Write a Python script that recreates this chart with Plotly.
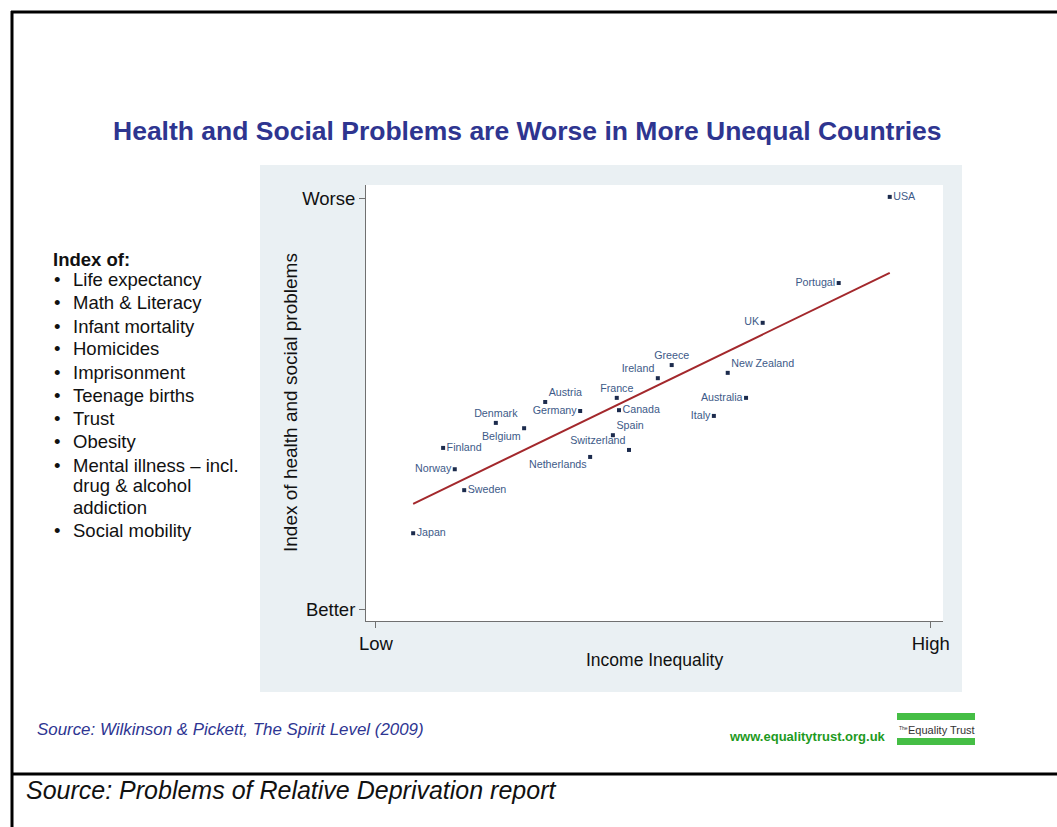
import numpy as np
import plotly.graph_objects as go

# ---------------- data ----------------
countries = ["USA", "Portugal", "UK", "Greece", "Ireland", "New Zealand", "Australia",
             "Italy", "France", "Canada", "Spain", "Switzerland", "Netherlands", "Austria",
             "Germany", "Denmark", "Belgium", "Finland", "Norway", "Sweden", "Japan"]
income_inequality = [92.6, 83.4, 69.7, 53.3, 50.8, 63.4, 66.7,
                     60.9, 43.4, 43.8, 42.7, 45.6, 38.6, 30.5,
                     36.8, 21.6, 26.7, 12.1, 14.2, 15.9, 6.7]
problems_index = [100.5, 79.5, 69.8, 59.5, 56.3, 57.6, 51.5,
                  47.1, 51.5, 48.5, 42.4, 38.8, 37.1, 50.5,
                  48.3, 45.4, 44.1, 39.3, 34.1, 29.0, 18.5]
label_positions = ["middle right", "middle left", "middle left", "top center", "top left",
                   "top right", "middle left", "middle left", "top center", "middle right",
                   "top right", "top left", "bottom left", "top right", "middle left",
                   "top center", "bottom left", "middle right", "middle left",
                   "middle right", "middle right"]
x_tick_vals = [0, 100]
x_tick_text = ["Low", "High"]
y_tick_vals = [0, 100]
y_tick_text = ["Better", "Worse"]
index_items = [["Life expectancy"], ["Math & Literacy"], ["Infant mortality"], ["Homicides"],
               ["Imprisonment"], ["Teenage births"], ["Trust"], ["Obesity"],
               ["Mental illness \u2013 incl.", "drug & alcohol", "addiction"], ["Social mobility"]]

W, H = 1057, 827
FONT = "Liberation Sans, Arial, sans-serif"


def fx(p):
    return p / W


def fy(p):
    return 1 - p / H


# regression line from the data
slope, intercept = np.polyfit(income_inequality, problems_index, 1)
fit_x = np.array([min(income_inequality), max(income_inequality)])
fit_y = slope * fit_x + intercept

fig = go.Figure()
fig.add_trace(go.Scatter(
    x=fit_x, y=fit_y, mode="lines",
    line=dict(color="#A3282C", width=2), hoverinfo="skip", showlegend=False))
fig.add_trace(go.Scatter(
    x=income_inequality, y=problems_index, mode="markers+text",
    text=countries, textposition=label_positions,
    textfont=dict(family=FONT, size=10.7, color="#3D5A88"),
    marker=dict(symbol="square", size=4, color="#1C2B4D"),
    showlegend=False))

axis_common = dict(showgrid=False, zeroline=False, showline=True, linecolor="#707070",
                   linewidth=1, ticks="outside", ticklen=6, tickcolor="#707070",
                   automargin=False,
                   tickfont=dict(family=FONT, size=18.5, color="#111111"))

fig.update_layout(
    width=W, height=H,
    margin=dict(l=0, r=0, t=0, b=0, pad=0, autoexpand=False),
    paper_bgcolor="white", plot_bgcolor="white",
    xaxis=dict(domain=[fx(366), fx(943)], range=[-1.8, 102.2],
               tickvals=x_tick_vals, ticktext=x_tick_text, **axis_common),
    yaxis=dict(domain=[fy(621), fy(185)], range=[-2.9, 103.4],
               tickvals=y_tick_vals, ticktext=y_tick_text, **axis_common),
)

shapes = [
    dict(type="rect", xref="paper", yref="paper", x0=fx(260), x1=fx(962), y0=fy(692), y1=fy(165),
         fillcolor="#EAF0F3", line=dict(width=0), layer="below"),
    dict(type="rect", xref="paper", yref="paper", x0=fx(366), x1=fx(943), y0=fy(621), y1=fy(185),
         fillcolor="white", line=dict(width=0), layer="below"),
    # frame
    dict(type="line", xref="paper", yref="paper", x0=fx(12), x1=fx(12), y0=0, y1=fy(11),
         line=dict(color="black", width=3)),
    dict(type="line", xref="paper", yref="paper", x0=fx(11), x1=1, y0=fy(12), y1=fy(12),
         line=dict(color="black", width=3)),
    dict(type="line", xref="paper", yref="paper", x0=fx(11), x1=1, y0=fy(774), y1=fy(774),
         line=dict(color="black", width=3)),
    # logo bars
    dict(type="rect", xref="paper", yref="paper", x0=fx(897), x1=fx(975), y0=fy(720), y1=fy(713),
         fillcolor="#45BE45", line=dict(width=0)),
    dict(type="rect", xref="paper", yref="paper", x0=fx(897), x1=fx(975), y0=fy(745), y1=fy(738),
         fillcolor="#45BE45", line=dict(width=0)),
]
fig.update_layout(shapes=shapes)

ann = []


def add_text(text, x, y, size, color="#111111", xanchor="left", bold=False, italic=False,
             textangle=0, family=FONT, align="left"):
    if bold:
        text = "<b>" + text + "</b>"
    if italic:
        text = "<i>" + text + "</i>"
    ann.append(dict(text=text, x=fx(x), y=fy(y), xref="paper", yref="paper",
                    xanchor=xanchor, yanchor="middle", showarrow=False, align=align,
                    textangle=textangle, borderpad=0,
                    font=dict(family=family, size=size, color=color)))


add_text("Health and Social Problems are Worse in More Unequal Countries", 527, 131, 26.5,
         color="#2E3590", xanchor="center", bold=True)
add_text("Index of:", 52, 259, 18.5, bold=True)
item_y = [280, 302, 326, 349, 372, 395, 418, 441, 465, 530]
for lines, yy in zip(index_items, item_y):
    add_text("\u2022", 57, yy, 18.5, xanchor="center")
    for k, line in enumerate(lines):
        add_text(line, 72, yy + 21 * k, 18.5)

add_text("Index of health and social problems", 290, 403, 19, xanchor="center", textangle=-90)
add_text("Income Inequality", 654, 660, 17.5, xanchor="center")
add_text("Source: Wilkinson & Pickett, The Spirit Level (2009)", 36, 729, 16.9,
         color="#2E3592", italic=True)
add_text("www.equalitytrust.org.uk", 728, 736, 13, color="#1E9A1E", bold=True)
add_text("The", 898, 728, 5, color="#333333")
add_text("Equality Trust", 907, 730, 11, color="#333333")
add_text("Source: Problems of Relative Deprivation report", 25, 790, 25, italic=True)

fig.update_layout(annotations=ann)

fig.write_html("out.html", config={"displayModeBar": False})
